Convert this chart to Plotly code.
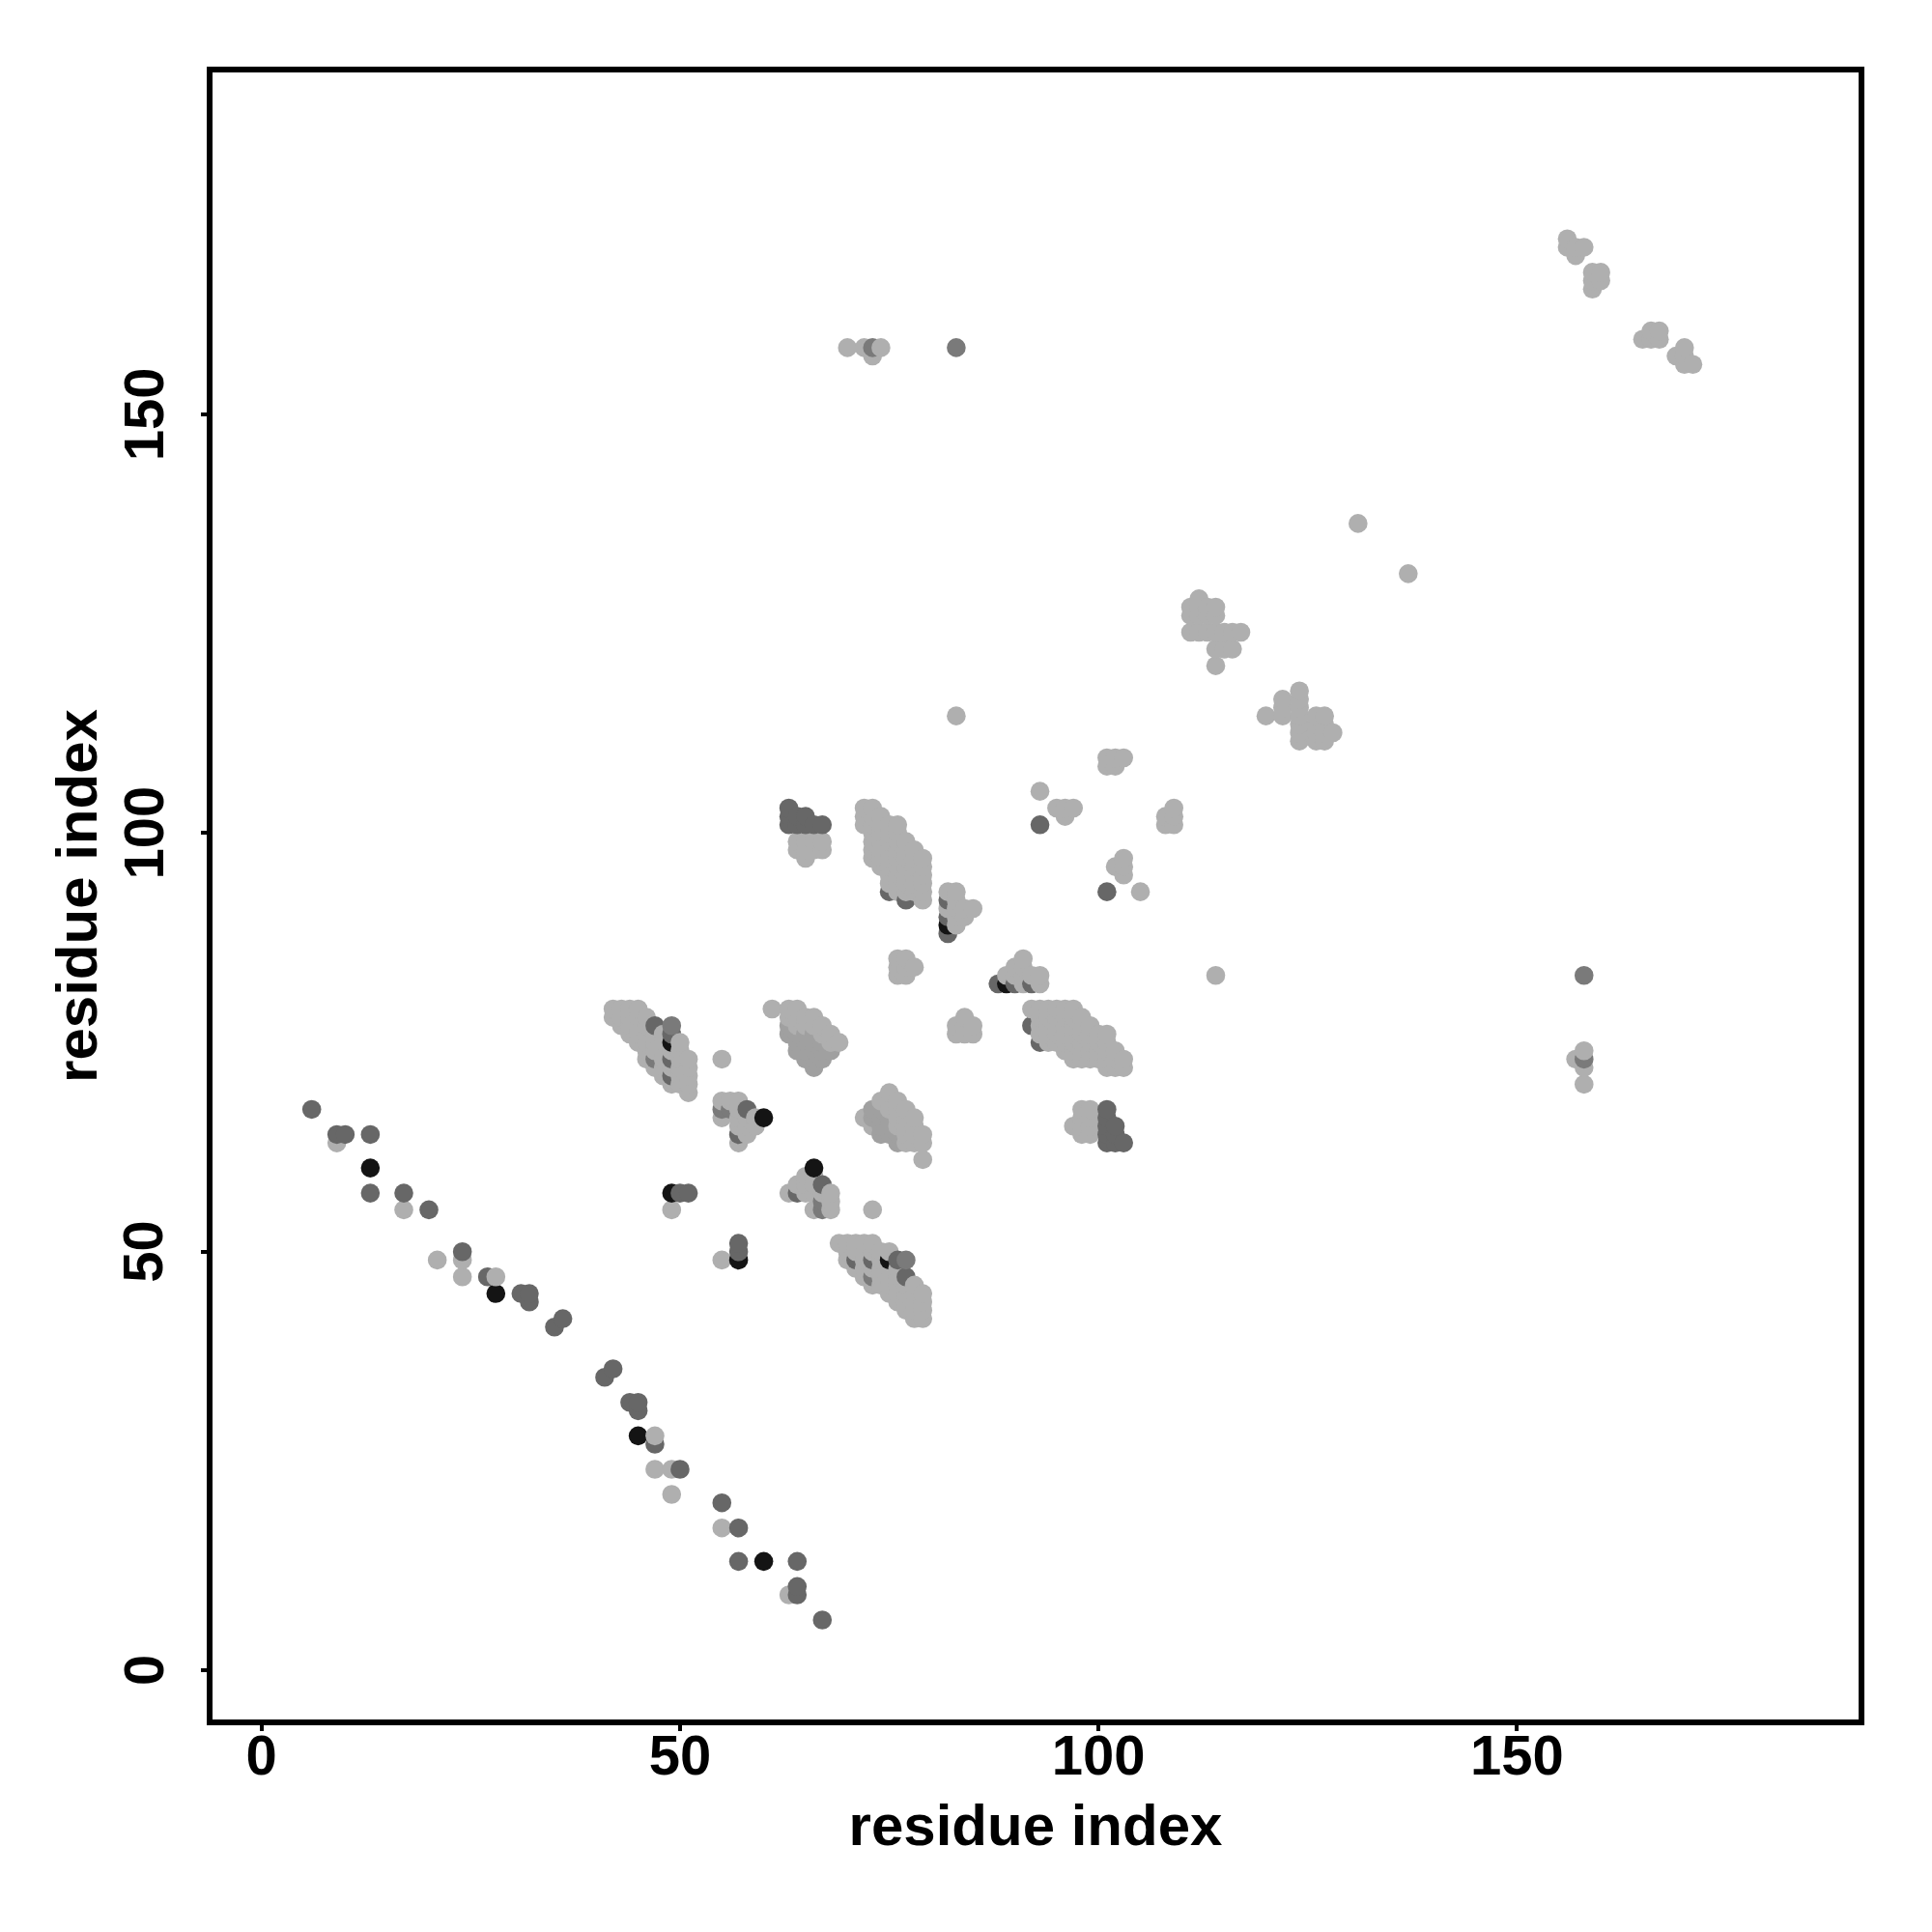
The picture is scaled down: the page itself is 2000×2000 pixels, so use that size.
import plotly.graph_objects as go

X_TICKS = [0, 50, 100, 150]
Y_TICKS = [0, 50, 100, 150]
AXIS_TITLE = "residue index"

SHADE_BLACK = "#141414"
SHADE_DARK = "#676767"
SHADE_DARK2 = "#7a7a7a"
SHADE_MID = "#a0a0a0"
SHADE_LIGHT = "#afafaf"

black_pairs = [(49,75),(75,49),(89,82),(82,89),(49,57),(57,49),(28,45),(45,28),(13,60),(60,13),(60,66),(66,60)]

dark_pairs = [(6,67),(67,6),(9,64),(64,9),(10,64),(64,10),(13,64),(64,13),(13,57),(57,13),
              (17,57),(57,17),(20,55),(55,20),(24,50),(50,24),(27,47),(47,27),(31,45),(45,31),
              (32,45),(45,32),(32,44),(44,32),(35,41),(41,35),(36,42),(42,36),
              (50,57),(51,57),(57,50),(57,51),(47,77),(77,47),(49,76),(76,49),(49,73),(73,49),
              (49,71),(71,49),(58,67),(67,58),(57,64),(64,57),(75,93),(93,75),(77,92),(92,77),
              (82,92),(92,82),(82,90),(90,82),(82,88),(88,82),(93,101),(101,93),
              (63,103),(63,102),(63,101),(64,102),(64,101),(65,102),(65,101),(66,101),(67,101),
              (103,63),(102,63),(101,63),(102,64),(101,64),(102,65),(101,65),(101,66),(101,67)]

dark2_pairs = [(83,158),(158,83),(73,158),(158,73),(47,73),(73,47),(55,67),(67,55),(56,67),(67,56),
               (49,77),(77,49)]

mid_rows_upper = {77:[63], 76:[63,64,65,66], 75:[64,65,66,67], 74:[64,65,66,67,68], 73:[65,66,67], 72:[66]}
mid_cols_lower = {76:[63,64], 75:[64,65,66], 74:[64,65,66,67], 73:[66,67]}

light_singles = [(9,63),(63,9),(17,55),(55,17),(21,49),(49,21),(24,49),(49,24),(24,47),(47,24),
                 (28,47),(47,28),(114,83),(83,114),(131,137),(137,131),(93,105),(105,93),
                 (55,73),(73,55),(49,55),(55,49),(158,74),(74,158),(157,73),(73,157),(158,72),
                 (72,158),(158,70),(70,158)]

light_blob_a = [(64,99),(64,98),(65,99),(65,98),(65,97),(66,99),(66,98),(67,99),(67,98),
                (99,64),(98,64),(99,65),(98,65),(97,65),(99,66),(98,66),(99,67),(98,67)]

light_b_cols = {72:[103,102,101], 73:[103,102,101,100,99,98,97], 74:[102,101,100,99,98,97,96],
                75:[101,100,99,98,97,96,95,94], 76:[101,100,99,98,97,96,95,94,93],
                77:[99,98,97,96,95,94,93], 78:[98,97,96,95,94,93], 79:[97,96,95,94,93,92],
                103:[72,73], 102:[72,73,74], 101:[72,73,74,75,76], 100:[73,74,75,76],
                99:[73,74,75,76,77], 98:[73,74,75,76,77,78], 97:[73,74,75,76,77,78,79],
                96:[74,75,76,77,78,79], 95:[75,76,77,78,79], 94:[75,76,77,78,79],
                93:[76,77,78,79], 92:[79]}

light_c = [(82,93),(82,91),(83,93),(83,92),(83,91),(83,90),(83,89),(84,91),(84,90),(85,91),
           (93,82),(91,82),(93,83),(92,83),(91,83),(90,83),(89,83),(91,84),(90,84),(91,85)]

light_d = [(76,85),(77,85),(76,84),(77,84),(78,84),(76,83),(77,83),
           (85,76),(85,77),(84,76),(84,77),(84,78),(83,76),(83,77)]

light_f_rows = {79:[42,43,44,45], 78:[42,43,44,45,46], 77:[43,44,45,46], 76:[44,45,46,47,48],
                75:[45,46,47,48,50], 74:[46,47,48,49,50], 73:[46,48,50,51], 72:[47,48,49,50,51],
                71:[48,50,51], 70:[49,50,51], 69:[51]}

light_f_cols = {79:[42,43,44,45], 78:[42,43,44,45,46], 77:[43,44,45,46], 76:[44,45,46,47,48],
                75:[45,46,47,48,50], 74:[46,47,48,49,50], 73:[46,48,50,51], 72:[47,48,49,50,51],
                71:[48,50,51], 70:[49,50,51], 69:[51]}

light_g_rows = {79:[61,63,64], 78:[63,64,65,66], 77:[64,65,66,67], 76:[67,68], 75:[68,69]}
light_g_cols = {79:[61,63,64], 78:[63,64,65,66], 77:[63,64,65,66,67], 76:[65,66,67,68],
                75:[67,68,69], 74:[68], 73:[65], 72:[66]}

light_h = [(55,68),(56,68),(57,68),(57,67),(55,66),(57,66),(58,66),(59,66),(57,65),(58,65),(59,65),
           (58,64),(57,63),
           (68,55),(68,56),(68,57),(67,57),(66,55),(66,57),(66,58),(66,59),(65,57),(65,58),(65,59),
           (64,58),(63,57)]

light_upper_right = [(112,128),(111,127),(112,127),(113,127),(114,127),(111,126),(112,126),(113,126),(114,126),
                     (111,124),(112,124),(113,124),(114,124),(115,124),(116,124),(117,124),
                     (114,122),(115,122),(116,122),(114,120),
                     (128,112),(127,111),(127,112),(127,113),(127,114),(126,111),(126,112),(126,113),(126,114),
                     (124,111),(124,112),(124,113),(124,114),(124,115),(124,116),(124,117),
                     (122,114),(122,115),(122,116),(120,114),
                     (95,103),(96,103),(97,103),(96,102),(103,95),(103,96),(103,97),(102,96),
                     (101,109),(102,109),(103,109),(101,108),(102,108),
                     (109,101),(109,102),(109,103),(108,101),(108,102)]

light_corner = [(156,171),(156,170),(157,170),(158,170),(157,169),(159,167),(160,167),(159,166),(160,166),(159,165),
                (165,159),(166,160),(167,160),(166,159),(167,159),(170,158),(169,157),(170,157),(170,156),(171,156)]


def from_cols(table):
    return [(x, y) for x, ys in table.items() for y in ys]


def from_rows(table):
    return [(x, y) for y, xs in table.items() for x in xs]


groups = [
    (black_pairs, SHADE_BLACK),
    (dark_pairs, SHADE_DARK),
    (dark2_pairs, SHADE_DARK2),
    (from_rows(mid_rows_upper) + from_cols(mid_cols_lower), SHADE_MID),
    (light_singles + light_blob_a + from_cols(light_b_cols) + light_c + light_d
     + from_rows(light_f_rows) + from_cols(light_f_cols) + from_rows(light_g_rows)
     + from_cols(light_g_cols) + light_h + light_upper_right + light_corner, SHADE_LIGHT),
]

# The picture paints contacts column by column, bottom to top, so later ones cover earlier ones.
points = {}
for pairs, shade in groups:
    for p in pairs:
        points.setdefault(p, shade)
ordered = sorted(points)

fig = go.Figure()
fig.add_trace(go.Scatter(
    x=[p[0] for p in ordered],
    y=[p[1] for p in ordered],
    mode="markers",
    marker=dict(size=19.6, color=[points[p] for p in ordered], line=dict(width=0)),
    showlegend=False,
))

FONT = "Liberation Sans"
bold_title = dict(family=FONT, size=60, color="black", weight="bold")
bold_tick = dict(family=FONT, size=58, color="black", weight="bold")
axis_style = dict(
    showgrid=False, zeroline=False, showline=True, mirror=True,
    linecolor="black", linewidth=6,
    ticks="outside", ticklen=6, tickwidth=4, tickcolor="black",
)
fig.update_layout(
    width=2000, height=2000,
    autosize=False,
    paper_bgcolor="white", plot_bgcolor="white",
    margin=dict(l=212, r=84, t=67, b=228, pad=0),
    showlegend=False,
    xaxis=dict(range=[-5.851, 190.8], tickvals=X_TICKS, ticktext=[str(v) for v in X_TICKS],
               tickfont=bold_tick, ticklabelstandoff=-25,
               title=dict(text=AXIS_TITLE, font=bold_title, standoff=22),
               **axis_style),
    yaxis=dict(range=[-5.886, 190.88], tickvals=Y_TICKS, showticklabels=False,
               title=dict(text=AXIS_TITLE, font=bold_title, standoff=90),
               **axis_style),
)
for value in Y_TICKS:
    fig.add_annotation(text=str(value), xref="paper", x=0, yref="y", y=value,
                       textangle=-90, showarrow=False, font=bold_tick,
                       xanchor="center", yanchor="middle", xshift=-72)
fig.write_html("out.html")
